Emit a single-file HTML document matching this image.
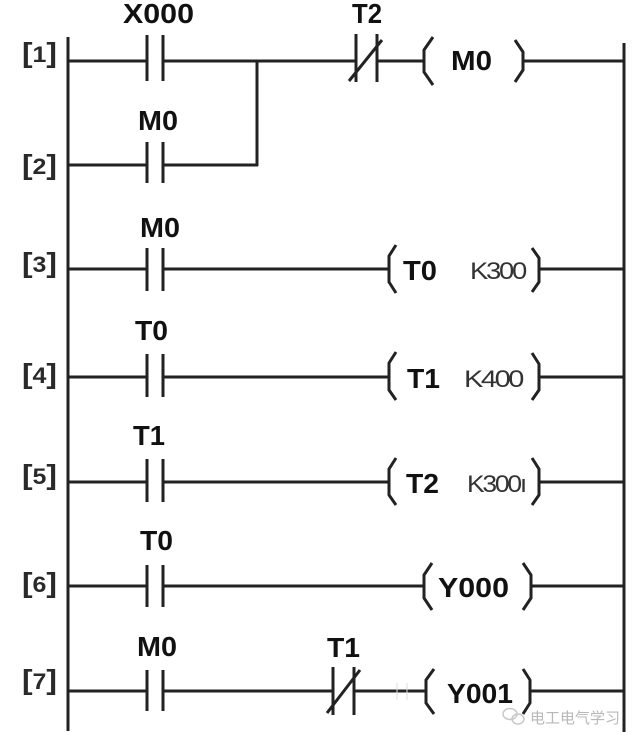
<!DOCTYPE html>
<html><head><meta charset="utf-8"><style>
html,body{margin:0;padding:0;background:#fff;}
svg{display:block;}
.l{stroke:#222;stroke-width:3;fill:none;}
.t{font-family:"Liberation Sans",Arial,sans-serif;font-weight:bold;font-size:28px;fill:#111;}
.k{font-family:"Liberation Sans",Arial,sans-serif;font-size:24px;fill:#333;letter-spacing:-2px;}
.b{font-family:"Liberation Sans",Arial,sans-serif;font-weight:bold;font-size:28px;fill:#2a2a2a;}
.w{font-family:"Liberation Sans","Noto Sans CJK SC",sans-serif;font-size:15px;fill:#b8b8b8;}
</style></head><body>
<svg width="640" height="742" viewBox="0 0 640 742" xmlns="http://www.w3.org/2000/svg">
<rect width="640" height="742" fill="#fff"/>
<!-- rails -->
<line class="l" x1="68" y1="37" x2="68" y2="731"/>
<line class="l" x1="624" y1="43" x2="624" y2="732"/>

<!-- bracket labels -->
<text class="b" x="22" y="62" textLength="35" lengthAdjust="spacingAndGlyphs">[<tspan font-size="22">1</tspan>]</text>
<text class="b" x="22" y="174" textLength="35" lengthAdjust="spacingAndGlyphs">[<tspan font-size="22">2</tspan>]</text>
<text class="b" x="22" y="272" textLength="35" lengthAdjust="spacingAndGlyphs">[<tspan font-size="22">3</tspan>]</text>
<text class="b" x="22" y="383" textLength="35" lengthAdjust="spacingAndGlyphs">[<tspan font-size="22">4</tspan>]</text>
<text class="b" x="22" y="484" textLength="35" lengthAdjust="spacingAndGlyphs">[<tspan font-size="22">5</tspan>]</text>
<text class="b" x="22" y="592" textLength="35" lengthAdjust="spacingAndGlyphs">[<tspan font-size="22">6</tspan>]</text>
<text class="b" x="22" y="689" textLength="35" lengthAdjust="spacingAndGlyphs">[<tspan font-size="22">7</tspan>]</text>

<!-- Rung 1 -->
<line class="l" x1="68" y1="61" x2="147" y2="61"/>
<line class="l" x1="147" y1="35" x2="147" y2="81"/>
<line class="l" x1="163" y1="35" x2="163" y2="81"/>
<line class="l" x1="163" y1="61" x2="356" y2="61"/>
<line class="l" x1="257" y1="61" x2="257" y2="166"/>
<text class="t" x="123" y="23" textLength="71" lengthAdjust="spacingAndGlyphs">X000</text>
<!-- NC contact T2 -->
<line class="l" x1="356" y1="34" x2="356" y2="82"/>
<line class="l" x1="377" y1="34" x2="377" y2="82"/>
<line class="l" x1="349" y1="81" x2="382" y2="40"/>
<text class="t" x="352" y="23" textLength="30" lengthAdjust="spacingAndGlyphs">T2</text>
<line class="l" x1="377" y1="61" x2="424" y2="61"/>
<polyline class="l" points="433,37 424,50 424,72 433,85"/>
<text class="t" x="451" y="70" textLength="41" lengthAdjust="spacingAndGlyphs">M0</text>
<polyline class="l" points="515,40 523,52 523,70 515,82"/>
<line class="l" x1="523" y1="61" x2="624" y2="61"/>

<!-- Rung 2 -->
<line class="l" x1="68" y1="165" x2="147" y2="165"/>
<line class="l" x1="147" y1="142" x2="147" y2="183"/>
<line class="l" x1="163" y1="142" x2="163" y2="183"/>
<line class="l" x1="163" y1="165" x2="258" y2="165"/>
<text class="t" x="138" y="130" textLength="40" lengthAdjust="spacingAndGlyphs">M0</text>

<!-- Rung 3 -->
<line class="l" x1="68" y1="269" x2="147" y2="269"/>
<line class="l" x1="147" y1="248" x2="147" y2="291"/>
<line class="l" x1="163" y1="248" x2="163" y2="291"/>
<line class="l" x1="163" y1="269" x2="389" y2="269"/>
<text class="t" x="140" y="237" textLength="40" lengthAdjust="spacingAndGlyphs">M0</text>
<polyline class="l" points="396,245 389,256 389,282 396,293"/>
<text class="t" x="403" y="280" textLength="34" lengthAdjust="spacingAndGlyphs">T0</text>
<text class="k" x="470" y="279" textLength="55" lengthAdjust="spacingAndGlyphs">K300</text>
<polyline class="l" points="532,248 539,258 539,282 532,292"/>
<line class="l" x1="539" y1="269" x2="624" y2="269"/>

<!-- Rung 4 -->
<line class="l" x1="68" y1="377" x2="147" y2="377"/>
<line class="l" x1="147" y1="354" x2="147" y2="397"/>
<line class="l" x1="163" y1="354" x2="163" y2="397"/>
<line class="l" x1="163" y1="377" x2="389" y2="377"/>
<text class="t" x="135" y="340" textLength="33" lengthAdjust="spacingAndGlyphs">T0</text>
<polyline class="l" points="396,352 389,363 389,390 396,400"/>
<text class="t" x="407" y="388" textLength="33" lengthAdjust="spacingAndGlyphs">T1</text>
<text class="k" x="464" y="387" textLength="58" lengthAdjust="spacingAndGlyphs">K400</text>
<polyline class="l" points="532,353 539,364 539,390 532,400"/>
<line class="l" x1="539" y1="377" x2="624" y2="377"/>

<!-- Rung 5 -->
<line class="l" x1="68" y1="482" x2="147" y2="482"/>
<line class="l" x1="147" y1="459" x2="147" y2="502"/>
<line class="l" x1="163" y1="459" x2="163" y2="502"/>
<line class="l" x1="163" y1="482" x2="389" y2="482"/>
<text class="t" x="133" y="445" textLength="32" lengthAdjust="spacingAndGlyphs">T1</text>
<polyline class="l" points="396,458 389,469 389,495 396,505"/>
<text class="t" x="406" y="493" textLength="33" lengthAdjust="spacingAndGlyphs">T2</text>
<text class="k" x="467" y="492" textLength="58" lengthAdjust="spacingAndGlyphs">K300ı</text>
<polyline class="l" points="532,458 539,469 539,495 532,505"/>
<line class="l" x1="539" y1="482" x2="624" y2="482"/>

<!-- Rung 6 -->
<line class="l" x1="68" y1="586" x2="147" y2="586"/>
<line class="l" x1="147" y1="565" x2="147" y2="607"/>
<line class="l" x1="163" y1="565" x2="163" y2="607"/>
<line class="l" x1="163" y1="586" x2="424" y2="586"/>
<text class="t" x="140" y="550" textLength="33" lengthAdjust="spacingAndGlyphs">T0</text>
<polyline class="l" points="432,563 424,575 424,598 432,610"/>
<text class="t" x="438" y="597" textLength="71" lengthAdjust="spacingAndGlyphs">Y000</text>
<polyline class="l" points="523,563 531,575 531,598 523,610"/>
<line class="l" x1="531" y1="586" x2="624" y2="586"/>

<!-- Rung 7 -->
<line class="l" x1="68" y1="691" x2="147" y2="691"/>
<line class="l" x1="147" y1="670" x2="147" y2="711"/>
<line class="l" x1="163" y1="670" x2="163" y2="711"/>
<line class="l" x1="163" y1="691" x2="333" y2="691"/>
<text class="t" x="137" y="656" textLength="40" lengthAdjust="spacingAndGlyphs">M0</text>
<line class="l" x1="333" y1="667" x2="333" y2="715"/>
<line class="l" x1="354" y1="667" x2="354" y2="715"/>
<line class="l" x1="327" y1="713" x2="360" y2="670"/>
<text class="t" x="327" y="657" textLength="33" lengthAdjust="spacingAndGlyphs">T1</text>
<line class="l" x1="354" y1="691" x2="426" y2="691"/>
<line x1="397" y1="683" x2="397" y2="700" stroke="#ddd" stroke-width="1"/>
<line x1="407" y1="683" x2="407" y2="700" stroke="#ddd" stroke-width="1"/>
<polyline class="l" points="434,669 426,680 426,703 434,714"/>
<text class="t" x="447" y="703" textLength="66" lengthAdjust="spacingAndGlyphs">Y001</text>
<polyline class="l" points="523,669 530,680 530,703 523,714"/>
<line class="l" x1="530" y1="691" x2="624" y2="691"/>

<!-- watermark -->
<ellipse cx="510" cy="714" rx="7" ry="5.5" fill="none" stroke="#c8c8c8" stroke-width="1.5"/>
<ellipse cx="518" cy="719" rx="6" ry="5" fill="none" stroke="#c8c8c8" stroke-width="1.5"/>
<text class="w" x="530" y="723" textLength="90" lengthAdjust="spacingAndGlyphs">电工电气学习</text>
</svg>
</body></html>
